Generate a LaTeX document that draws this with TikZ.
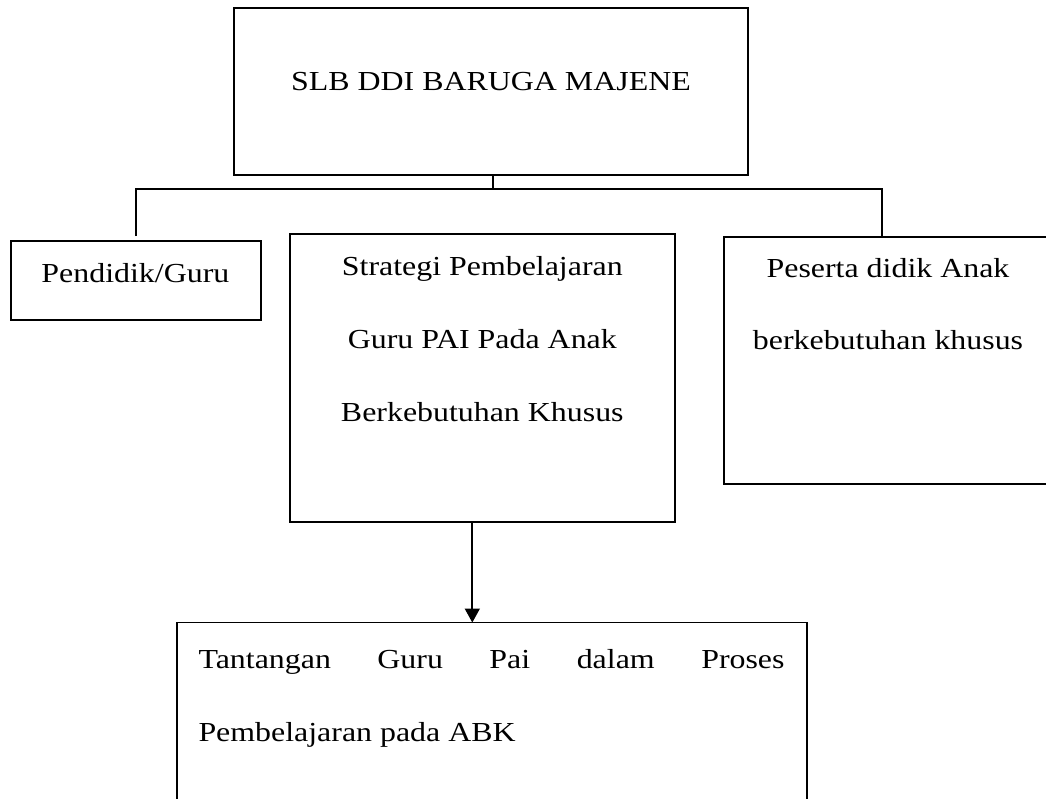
\documentclass[tikz,border=0pt]{standalone}
\usepackage{fontspec}
\setmainfont{Liberation Serif}
\usepackage{graphicx}
\usetikzlibrary{arrows.meta}
\newcommand{\tx}[1]{\scalebox{1.16}[1]{#1}}
\begin{document}
\begin{tikzpicture}[x=1pt,y=-1pt,
  boxnode/.style={draw, line width=1.8pt, inner sep=0pt, outer sep=0pt, anchor=north west},
  txt/.style={inner sep=0pt, font=\fontsize{27.5}{73}\selectfont},
  link/.style={line width=1.8pt}]
\useasboundingbox (0,0) rectangle (1046,798);
\clip (0,0) rectangle (1046,798);
% boxes
\node[boxnode, minimum width=514pt, minimum height=167pt] (top) at (234,8) {};
\node[boxnode, minimum width=250pt, minimum height=79pt] (pend) at (11,241) {};
\node[boxnode, minimum width=385pt, minimum height=288pt] (strat) at (290,234) {};
\node[boxnode, minimum width=328pt, minimum height=247.6pt] (pes) at (724.3,236.7) {};
\node[boxnode, minimum width=629.4pt, minimum height=220pt] (bot) at (177.3,622.5) {};
% texts
\node[txt, anchor=base] (toptext) at (491,90.7) {\tx{SLB DDI BARUGA MAJENE}};
\node[txt, anchor=base] (pendtext) at (135.4,282.7) {\tx{Pendidik/Guru}};
\node[txt, anchor=base] (strattext) at (482.3,275) {\tx{\begin{tabular}[t]{@{}c@{}}Strategi Pembelajaran\\Guru PAI Pada Anak\\Berkebutuhan Khusus\end{tabular}}};
\node[txt, anchor=base, font=\fontsize{27.5}{72}\selectfont] (pestext) at (888,277.3) {\tx{\begin{tabular}[t]{@{}c@{}}Peserta didik Anak\\berkebutuhan khusus\end{tabular}}};
\node[txt, anchor=base west] (bottext) at (198.3,668.3) {\tx{\begin{tabular}[t]{@{}l@{}}\makebox[505.2pt][s]{Tantangan Guru Pai dalam Proses}\\Pembelajaran pada ABK\end{tabular}}};
% connectors
\coordinate (busL) at (136,189);
\coordinate (busR) at (882,189);
\coordinate (busM) at (493,189);
\coordinate (pendIn) at (136,236);
\coordinate (arrX) at (472.3,0);
\draw[link] (top.south -| busM) -- (busM);
\draw[link] (pendIn) -- (busL) -- (busR) -- (pes.north -| busR);
\draw[link, -{Triangle[length=14pt,width=15pt]}] (strat.south -| arrX) -- (bot.north -| arrX);
\end{tikzpicture}
\end{document}
